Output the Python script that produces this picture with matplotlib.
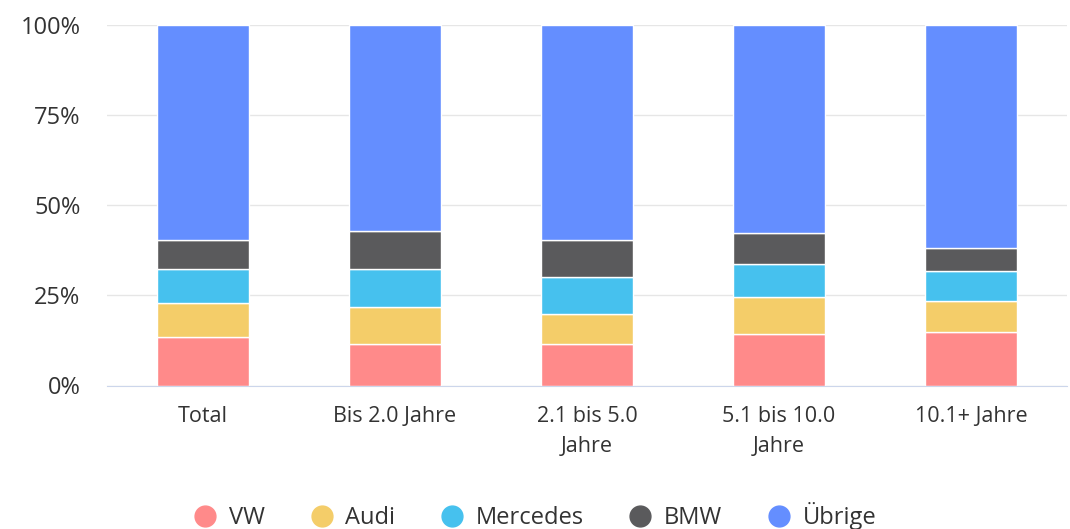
import numpy as np
import matplotlib.pyplot as plt

plt.rcParams['font.family'] = ['Open Sans', 'DejaVu Sans']

# data (percent of each age group)
groups = ['Total', 'Bis 2.0 Jahre', '2.1 bis 5.0\nJahre', '5.1 bis 10.0\nJahre', '10.1+ Jahre']
brands = ['VW', 'Audi', 'Mercedes', 'BMW', 'Übrige']
vw = [13.4, 11.4, 11.4, 14.4, 14.8]
audi = [9.6, 10.5, 8.5, 10.1, 8.7]
mercedes = [9.2, 10.3, 10.2, 9.2, 8.2]
bmw = [8.1, 10.7, 10.2, 8.7, 6.5]
uebrige = [59.7, 57.1, 59.7, 57.6, 61.8]
colors = ['#ff8a8a', '#f4cd69', '#46c1ee', '#5a5a5c', '#648eff']

series = [vw, audi, mercedes, bmw, uebrige]

fig = plt.figure(figsize=(10.70, 5.29), dpi=100)
ax = fig.add_axes([107/1070, 1 - 385.5/529, 960/1070, 360.5/529])

x = np.arange(len(groups))
bottom = np.zeros(len(groups))
for name, vals, col in zip(brands, series, colors):
    ax.bar(x, vals, width=0.48, bottom=bottom, color=col, edgecolor='white',
           linewidth=1, label=name, zorder=3)
    bottom += np.array(vals)

ax.set_xlim(-0.5, len(groups) - 0.5)
ax.set_ylim(0, 100)
ax.set_yticks([0, 25, 50, 75, 100])
ax.set_yticklabels(['0%', '25%', '50%', '75%', '100%'])
ax.set_xticks(x)
ax.set_xticklabels(groups, linespacing=1.55)
ax.tick_params(axis='y', length=0, pad=19, labelsize=17, labelcolor='#333333')
ax.tick_params(axis='x', length=0, pad=15, labelsize=15.5, labelcolor='#333333')

ax.grid(axis='y', color='#e6e6e6', linewidth=1, zorder=0)
for s in ['top', 'right', 'left']:
    ax.spines[s].set_visible(False)
ax.spines['bottom'].set_color('#ccd6eb')
ax.spines['bottom'].set_zorder(4)

# legend with round markers
handles = [plt.Line2D([], [], marker='o', linestyle='', markersize=15,
                      markerfacecolor=c, markeredgecolor=c) for c in colors]
fig.legend(handles, brands, loc='center', bbox_to_anchor=(0.5, 1 - 516/529),
           ncol=5, frameon=False, fontsize=17, handlelength=1.0,
           handletextpad=0.5, columnspacing=1.9, labelcolor='#333333')

fig.savefig('out.png', dpi=100)
